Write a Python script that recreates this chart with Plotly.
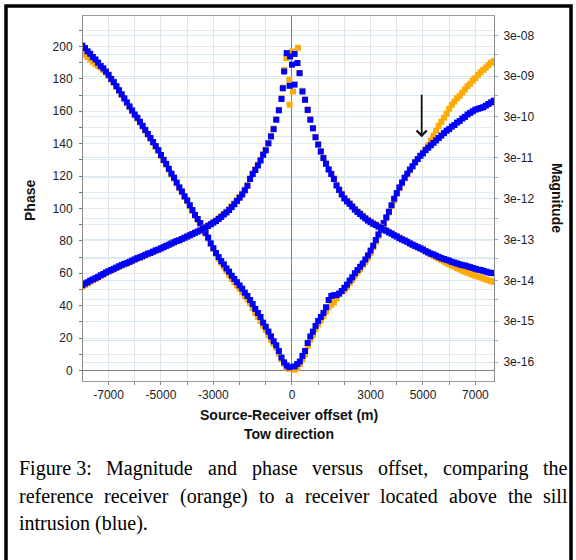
import plotly.graph_objects as go

# ---------------- data ----------------
offset_outer_left = [-8000, -7900, -7800, -7700, -7600, -7500, -7400, -7300, -7200, -7100,
                     -7000, -6900, -6800, -6700, -6600, -6500, -6400, -6300, -6200, -6100,
                     -6000, -5900, -5800, -5700, -5600, -5500, -5400, -5300, -5200, -5100,
                     -5000, -4900, -4800, -4700, -4600, -4500, -4400, -4300, -4200, -4100,
                     -4000, -3900, -3800, -3700, -3600, -3500, -3400, -3300, -3200, -3100,
                     -3000, -2900, -2800, -2700, -2600, -2500, -2400, -2300, -2200, -2100,
                     -2000]
offset_center_left = [-1900, -1800, -1700, -1600, -1500, -1400, -1300, -1200, -1100, -1000,
                      -900, -800, -700, -600, -500, -400, -300, -200, -100]
offset_center_right = [100, 200, 300, 400, 500, 600, 700, 800, 900, 1000,
                       1100, 1200, 1300, 1400, 1500, 1600, 1700, 1800, 1900]
offset_outer_right = [2000, 2100, 2200, 2300, 2400, 2500, 2600, 2700, 2800, 2900,
                      3000, 3100, 3200, 3300, 3400, 3500, 3600, 3700, 3800, 3900,
                      4000, 4100, 4200, 4300, 4400, 4500, 4600, 4700, 4800, 4900,
                      5000, 5100, 5200, 5300, 5400, 5500, 5600, 5700, 5800, 5900,
                      6000, 6100, 6200, 6300, 6400, 6500, 6600, 6700, 6800, 6900,
                      7000, 7100, 7200, 7300, 7400, 7500, 7600, 7700]

# Phase (degrees, left axis)
phase_left_blue = [200.5, 199, 197, 195.5, 193.5, 192, 190, 188, 186.5, 184.5,
                   182.5, 180, 178, 175.5, 173, 170.5, 168, 165.5, 163, 160.5,
                   158, 156, 153.5, 151, 148.5, 146, 143.5, 141, 138.5, 136,
                   133, 130, 127.5, 124.5, 121.5, 119, 116, 113, 110.5, 107.5,
                   105, 102, 99, 96, 93.5, 91, 88, 85, 82, 78.5,
                   75.5, 72.5, 70, 67.5, 65.5, 63, 61, 58.5, 56.5, 54.5,
                   52.5]
phase_left_orange = [196, 195, 193.5, 192, 190.5, 189, 188, 187, 185.5, 184,
                     182, 179.5, 177.5, 175, 172.5, 170, 167.5, 165, 162.5, 160,
                     157.5, 155.5, 153, 150.5, 148, 145.5, 143, 140.5, 138, 135.5,
                     132.5, 129.5, 127, 124, 121, 118.5, 115.5, 112.5, 110, 107,
                     104.5, 101.5, 98.5, 95.5, 93, 90.5, 87.5, 84.5, 81.5, 78,
                     75, 72, 69, 66.5, 64, 61.5, 59, 56.5, 54.5, 52.5,
                     50.5]
phase_center_left_blue = [50.5, 48, 46, 43.5, 41, 38, 35.5, 33, 29.5, 27,
                          24, 21, 18, 15.5, 12, 8, 5, 3, 2]
phase_center_left_orange = [48.5, 46, 44, 41.5, 38.5, 35.5, 33, 30.5, 27.5, 25,
                            22, 19, 16.5, 14, 10.5, 7, 4, 2, 1]
phase_center_right_blue = [2.5, 4, 5.5, 9, 12, 17, 21, 24, 27.5, 30.5,
                           33, 35.5, 39, 43.5, 46, 46.5, 46.5, 47.5, 49]
phase_center_right_orange = [0.5, 1.5, 4, 7, 10, 15, 19, 22, 25.5, 28.5,
                             31, 33.5, 36.5, 39, 40.5, 42, 44.5, 47, 49]
phase_right_blue = [51, 53, 55.5, 57.5, 60, 62, 64, 66, 68.5, 71,
                    74, 77, 80.5, 84, 87, 91, 94.5, 98, 102, 106,
                    109.5, 113, 116, 119, 121.5, 124, 126, 128.5, 130.5, 132.5,
                    134, 136, 137.5, 139, 140.5, 142, 143.5, 145, 146.5, 148,
                    149, 150.5, 151.5, 153, 154, 155.5, 156.5, 158, 159, 160,
                    161, 161.5, 162, 162.5, 163.5, 164.5, 165.5, 166.5]
phase_right_orange = [49.5, 51.5, 54, 56, 58.5, 60.5, 62.5, 65, 67, 69.5,
                      72.5, 76, 79.5, 83, 86.5, 90, 94, 97.5, 101.5, 105,
                      109, 112.5, 115.5, 118.5, 121, 123.5, 126, 128.5, 130.5, 132.5,
                      134.5, 136.5, 139, 142, 145, 148, 151, 153.5, 156, 158.5,
                      161.5, 164, 166, 168, 169.5, 171.5, 173.5, 175.5, 177, 179,
                      180.5, 182.5, 184, 185.5, 187, 188.5, 190, 191]

# Magnitude (right axis, log scale)
magnitude_left_blue = [2.29e-14, 2.51e-14, 2.69e-14, 2.95e-14, 3.16e-14, 3.39e-14, 3.63e-14, 3.98e-14, 4.27e-14, 4.68e-14,
                       5.01e-14, 5.37e-14, 5.75e-14, 6.17e-14, 6.61e-14, 7.08e-14, 7.59e-14, 7.94e-14, 8.51e-14, 9.12e-14,
                       9.77e-14, 1.05e-13, 1.10e-13, 1.17e-13, 1.26e-13, 1.35e-13, 1.41e-13, 1.51e-13, 1.62e-13, 1.70e-13,
                       1.82e-13, 1.95e-13, 2.09e-13, 2.24e-13, 2.40e-13, 2.57e-13, 2.75e-13, 2.88e-13, 3.09e-13, 3.31e-13,
                       3.55e-13, 3.80e-13, 4.07e-13, 4.37e-13, 4.68e-13, 5.01e-13, 5.50e-13, 5.89e-13, 6.46e-13, 7.08e-13,
                       7.76e-13, 8.51e-13, 9.55e-13, 1.07e-12, 1.23e-12, 1.38e-12, 1.58e-12, 1.86e-12, 2.19e-12, 2.63e-12,
                       3.16e-12]
magnitude_left_orange = [2.09e-14, 2.29e-14, 2.51e-14, 2.75e-14, 3.02e-14, 3.24e-14, 3.55e-14, 3.89e-14, 4.17e-14, 4.57e-14,
                         4.9e-14, 5.25e-14, 5.6e-14, 6.03e-14, 6.5e-14, 6.9e-14, 7.4e-14, 7.8e-14, 8.4e-14, 8.9e-14,
                         9.6e-14, 1.03e-13, 1.08e-13, 1.15e-13, 1.24e-13, 1.32e-13, 1.39e-13, 1.49e-13, 1.6e-13, 1.68e-13,
                         1.8e-13, 1.93e-13, 2.07e-13, 2.22e-13, 2.38e-13, 2.55e-13, 2.73e-13, 2.86e-13, 3.07e-13, 3.3e-13,
                         3.53e-13, 3.8e-13, 4.07e-13, 4.4e-13, 4.7e-13, 5.05e-13, 5.55e-13, 5.95e-13, 6.6e-13, 7.2e-13,
                         8.0e-13, 8.8e-13, 9.9e-13, 1.11e-12, 1.28e-12, 1.44e-12, 1.66e-12, 1.95e-12, 2.3e-12, 2.75e-12,
                         3.3e-12]
mag_offset_center_blue = [-1900, -1800, -1700, -1600, -1500, -1400, -1300, -1200, -1100, -1000,
                          -900, -800, -700, -600, -500, -400, -350, -300, -200, -90, -70, 0, 100, 100,
                          210, 290, 400, 500, 600, 700, 800, 900, 1000, 1100, 1200, 1300, 1400, 1500,
                          1600, 1700, 1800, 1900]
magnitude_center_blue = [3.8e-12, 4.8e-12, 6.2e-12, 9.1e-12, 1.2e-11, 1.51e-11, 1.95e-11, 2.57e-11, 3.55e-11, 4.57e-11,
                         6.76e-11, 1.0e-10, 1.51e-10, 2.57e-10, 4.37e-10, 8.3e-10, 1.51e-9, 3.9e-9, 1.1e-8, 1.74e-9,
                         9.1e-9, 5.75e-9, 1.05e-8, 1.86e-9, 6.3e-9, 3.55e-9, 1.26e-9, 7.9e-10, 4.47e-10, 2.57e-10,
                         1.58e-10, 9.55e-11, 6.3e-11, 4.27e-11, 2.95e-11, 2.14e-11, 1.55e-11, 1.2e-11, 9.1e-12, 6.3e-12,
                         4.9e-12, 3.8e-12]
mag_offset_center_orange = [-1900, -1800, -1700, -1600, -1500, -1400, -1300, -1200, -1100, -1000,
                            -900, -800, -700, -600, -500, -400, -340, -290, -215, -100, -90, 0, 40, 230,
                            290, 400, 500, 600, 700, 800, 900, 1000, 1100, 1200, 1300, 1400, 1500,
                            1600, 1700, 1800, 1900]
magnitude_center_orange = [3.95e-12, 5.0e-12, 6.5e-12, 9.5e-12, 1.25e-11, 1.58e-11, 2.04e-11, 2.7e-11, 3.7e-11, 4.8e-11,
                           7.0e-11, 1.04e-10, 1.56e-10, 2.65e-10, 4.5e-10, 8.7e-10, 1.58e-9, 4.27e-9, 8.3e-9, 2.45e-9,
                           6.0e-10, 1.2e-8, 1.26e-9, 1.48e-8, 3.6e-9, 1.32e-9, 8.1e-10, 4.6e-10, 2.65e-10, 1.62e-10,
                           9.8e-11, 6.5e-11, 4.4e-11, 3.05e-11, 2.2e-11, 1.6e-11, 1.24e-11, 9.5e-12, 6.6e-12, 5.1e-12,
                           3.95e-12]
magnitude_right_blue = [3.02e-12, 2.57e-12, 2.24e-12, 1.91e-12, 1.62e-12, 1.41e-12, 1.26e-12, 1.10e-12, 9.77e-13, 8.71e-13,
                        7.94e-13, 7.24e-13, 6.76e-13, 6.17e-13, 5.75e-13, 5.25e-13, 4.90e-13, 4.47e-13, 4.17e-13, 3.80e-13,
                        3.55e-13, 3.24e-13, 3.02e-13, 2.82e-13, 2.63e-13, 2.40e-13, 2.24e-13, 2.09e-13, 1.95e-13, 1.82e-13,
                        1.70e-13, 1.55e-13, 1.45e-13, 1.35e-13, 1.29e-13, 1.20e-13, 1.12e-13, 1.05e-13, 1.00e-13, 9.55e-14,
                        9.12e-14, 8.51e-14, 8.13e-14, 7.76e-14, 7.41e-14, 7.08e-14, 6.92e-14, 6.61e-14, 6.31e-14, 6.03e-14,
                        5.75e-14, 5.50e-14, 5.37e-14, 5.13e-14, 4.90e-14, 4.68e-14, 4.57e-14, 4.47e-14]
magnitude_right_orange = [3.15e-12, 2.68e-12, 2.34e-12, 2.0e-12, 1.7e-12, 1.48e-12, 1.32e-12, 1.16e-12, 1.02e-12, 9.1e-13,
                          8.3e-13, 7.6e-13, 7.0e-13, 6.4e-13, 5.9e-13, 5.4e-13, 5.0e-13, 4.6e-13, 4.25e-13, 3.9e-13,
                          3.6e-13, 3.3e-13, 3.05e-13, 2.84e-13, 2.64e-13, 2.42e-13, 2.24e-13, 2.08e-13, 1.93e-13, 1.81e-13,
                          1.7e-13, 1.55e-13, 1.41e-13, 1.3e-13, 1.2e-13, 1.1e-13, 1.02e-13, 9.4e-14, 8.7e-14, 8.0e-14,
                          7.4e-14, 6.9e-14, 6.46e-14, 6.0e-14, 5.62e-14, 5.25e-14, 4.9e-14, 4.6e-14, 4.37e-14, 4.1e-14,
                          3.89e-14, 3.7e-14, 3.55e-14, 3.35e-14, 3.16e-14, 3.02e-14, 2.88e-14, 2.75e-14]

# Tick labels
x_tick_vals = [-7000, -6000, -5000, -4000, -3000, -2000, -1000, 0, 1000, 2000, 3000, 4000, 5000, 6000, 7000]
x_tick_text = ["-7000", "", "-5000", "", "-3000", "", "", "0", "", "", "3000", "", "5000", "", "7000"]
phase_tick_vals = [0, 10, 20, 30, 40, 50, 60, 70, 80, 90, 100, 110, 120, 130, 140, 150, 160, 170, 180, 190, 200, 210]
phase_tick_text = ["0", "", "20", "", "40", "", "60", "", "80", "", "100", "", "120", "", "140", "", "160", "",
                   "180", "", "200", ""]
mag_tick_vals = [3e-16, 1e-15, 3e-15, 1e-14, 3e-14, 1e-13, 3e-13, 1e-12, 3e-12, 1e-11, 3e-11,
                 1e-10, 3e-10, 1e-9, 3e-9, 1e-8, 3e-8]
mag_tick_text = ["3e-16", "", "3e-15", "", "3e-14", "", "3e-13", "", "3e-12", "", "3e-11",
                 "", "3e-10", "", "3e-09", "", "3e-08"]

# ---------------- assemble ----------------
x_phase = offset_outer_left + offset_center_left + offset_center_right + offset_outer_right
phase_blue = phase_left_blue + phase_center_left_blue + phase_center_right_blue + phase_right_blue
phase_orange = phase_left_orange + phase_center_left_orange + phase_center_right_orange + phase_right_orange
x_mag_blue = offset_outer_left + mag_offset_center_blue + offset_outer_right
mag_blue = magnitude_left_blue + magnitude_center_blue + magnitude_right_blue
x_mag_orange = offset_outer_left + mag_offset_center_orange + offset_outer_right
mag_orange = magnitude_left_orange + magnitude_center_orange + magnitude_right_orange

ORANGE = "#ffaa00"
BLUE = "#0000ff"
MS = 6


def mk(color):
    return dict(symbol="square", size=MS, color=color, line=dict(width=0))


fig = go.Figure()
fig.add_trace(go.Scatter(x=x_phase, y=phase_orange, mode="markers", marker=mk(ORANGE), yaxis="y"))
fig.add_trace(go.Scatter(x=x_phase, y=phase_blue, mode="markers", marker=mk(BLUE), yaxis="y"))
fig.add_trace(go.Scatter(x=x_mag_orange, y=mag_orange, mode="markers", marker=mk(ORANGE), yaxis="y2"))
fig.add_trace(go.Scatter(x=x_mag_blue, y=mag_blue, mode="markers", marker=mk(BLUE), yaxis="y2"))

SANS = "Liberation Sans, Arial, sans-serif"
SERIF = "Liberation Serif, Times New Roman, serif"
tickfont = dict(family=SANS, size=12, color="#222222")

L, R, T, B = 83, 494, 16, 381
W, H = 576, 560


def px(xp):
    return (xp - L) / (R - L)


def py(yp):
    return (B - yp) / (B - T)


fig.update_layout(
    width=W, height=H, autosize=False,
    margin=dict(l=L, r=W - R, t=T, b=H - B, pad=0),
    paper_bgcolor="white", plot_bgcolor="white",
    showlegend=False,
    xaxis=dict(range=[-7975, 7710], tickmode="array", tickvals=x_tick_vals, ticktext=x_tick_text,
               ticks="outside", ticklen=3, tickcolor="#888888", tickfont=tickfont,
               showgrid=True, gridcolor="#e1e5e9", gridwidth=1,
               zeroline=True, zerolinecolor="#808080", zerolinewidth=1,
               showline=True, linecolor="#9a9a9a", linewidth=1, mirror=True),
    yaxis=dict(range=[-6.5, 218.8], tickmode="array", tickvals=phase_tick_vals, ticktext=phase_tick_text,
               ticks="outside", ticklen=3, tickcolor="#777777", tickfont=tickfont, ticklabelstandoff=4,
               showgrid=True, gridcolor="#e2edf2", gridwidth=1,
               zeroline=True, zerolinecolor="#808080", zerolinewidth=1,
               showline=True, linecolor="#8a8a8a", linewidth=1, mirror=True),
    yaxis2=dict(type="log", range=[-15.988, -7.05], overlaying="y", side="right",
                tickmode="array", tickvals=mag_tick_vals, ticktext=mag_tick_text,
                ticks="outside", ticklen=3, tickcolor="#9fa3f0", tickfont=tickfont, ticklabelstandoff=3,
                showgrid=True, gridcolor="#d6e9f3", gridwidth=1,
                showline=True, linecolor="#8a8a8a", linewidth=1, zeroline=False),
)

ann = []
ann.append(dict(text="<b>Phase</b>", x=px(30), y=py(200), xref="paper", yref="paper", showarrow=False,
                textangle=-90, font=dict(family=SANS, size=14, color="#111111"), xanchor="center", yanchor="middle"))
ann.append(dict(text="<b>Magnitude</b>", x=px(557), y=py(198), xref="paper", yref="paper", showarrow=False,
                textangle=90, font=dict(family=SANS, size=14, color="#111111"), xanchor="center", yanchor="middle"))
ann.append(dict(text="<b>Source-Receiver offset (m)</b>", x=px(289), y=py(415), xref="paper", yref="paper",
                showarrow=False, font=dict(family=SANS, size=14, color="#111111"), xanchor="center", yanchor="middle"))
ann.append(dict(text="<b>Tow direction</b>", x=px(289), y=py(434), xref="paper", yref="paper",
                showarrow=False, font=dict(family=SANS, size=14, color="#111111"), xanchor="center", yanchor="middle"))

# arrow at offset 5000
ann.append(dict(x=4950, y=144, xref="x", yref="y", ax=0, ay=-44, axref="pixel", ayref="pixel", text="",
                showarrow=True, arrowhead=4, arrowsize=1.1, arrowwidth=1.8, arrowcolor="#111111"))

# caption (justified by placing words)
cap_font = dict(family=SERIF, size=20, color="#000000")
caption_lines = [
    (468, [("Figure 3:", 17), ("Magnitude", 104.4), ("and", 205.9), ("phase", 249.6), ("versus", 309.9),
           ("offset,", 375.8), ("comparing", 441.1), ("the", 541.4)]),
    (496, [("reference", 17), ("receiver", 102.4), ("(orange)", 177.8), ("to", 256.5), ("a", 283.1),
           ("receiver", 303), ("located", 378.4), ("above", 447.2), ("the", 506), ("sill", 541.4)]),
    (523, [("intrusion (blue).", 17)]),
]
for yy, words in caption_lines:
    for w, xx in words:
        ann.append(dict(text=w, x=px(xx), y=py(yy), xref="paper", yref="paper", showarrow=False,
                        font=cap_font, xanchor="left", yanchor="middle"))

fig.update_layout(annotations=ann)

# outer black frame
fig.add_shape(type="rect", xref="paper", yref="paper", x0=px(6), x1=px(571), y0=py(620), y1=py(6),
              line=dict(color="black", width=3.5), fillcolor="rgba(0,0,0,0)", layer="above")

fig.write_html("out.html", config={"displayModeBar": False},
               post_script="document.body.style.margin='0px';document.body.style.padding='0px';")
